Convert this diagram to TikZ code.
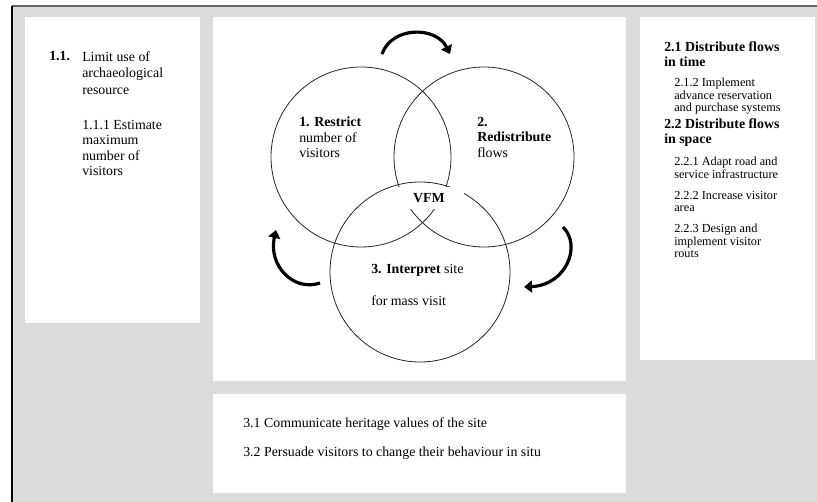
\documentclass[tikz,border=0pt]{standalone}
\usepackage{fontspec}
\setmainfont{Liberation Serif}
\usepackage{tikz}
\usetikzlibrary{arrows.meta}
\usepackage{xcolor}
\definecolor{panelgray}{RGB}{220,220,220}

\tikzset{
  venn/.style={circle, draw=black!85, line width=0.6pt, minimum size=135pt, inner sep=0pt},
  body/.style={font=\fontsize{10.4}{12}\selectfont, align=left, inner sep=0pt, anchor=north west},
  small/.style={font=\fontsize{9.2}{9.3}\selectfont, align=left, inner sep=0pt, anchor=north west},
  cyc/.style={line width=2.4pt, -{Triangle[length=6pt,width=9pt]}}
}

\begin{document}
\begin{tikzpicture}[x=0.75pt, y=-0.75pt]
    \useasboundingbox (0,0) rectangle (817,502);
    % frame and panels
    \fill[panelgray] (12,6) rectangle (817,502);
    \draw[black!60, line width=0.8pt] (12,6) -- (817,6);
    \draw[black, line width=1.5pt] (12,6) -- (12,502);
    \fill[white] (25,17) rectangle (200,323);
    \fill[white] (213,17) rectangle (626,381);
    \fill[white] (640,17) rectangle (815,360);
    \fill[white] (213,394) rectangle (626,493);

    % left panel
    \node[body, font=\fontsize{10.4}{12}\selectfont\bfseries] (n11) at (49,51) {1.1.};
    \node[body, font=\fontsize{10.4}{12.4}\selectfont] (limit) at (82,51) {Limit use of\\archaeological\\resource};
    \node[body, font=\fontsize{10.4}{11.5}\selectfont] (estimate) at (82,120) {1.1.1 Estimate\\maximum\\number of\\visitors};

    % Venn circles
    \node[venn] (restrict) at (361,157) {};
    \node[venn] (redist) at (484,157) {};
    \node[venn] (interp) at (420,272) {};

    \node[body, font=\fontsize{10.4}{11.6}\selectfont] (t1) at (299,117) {\textbf{1. Restrict}\\number of\\visitors};
    \node[body, font=\fontsize{10.4}{11.6}\selectfont] (t2) at (477,117) {\textbf{2.}\\\textbf{Redistribute}\\flows};
    \node[body] (t3) at (371,264) {\textbf{3. Interpret} site};
    \node[body] (t3b) at (371,295) {for mass visit};
    \node[fill=white, inner sep=0pt, minimum width=53pt, minimum height=17pt,
          font=\fontsize{10.4}{12}\selectfont\bfseries] (vfm) at (429,198) {VFM};

    % cycle arrows
    \coordinate (a1) at (382,54);
    \coordinate (a2) at (450,54);
    \coordinate (b1) at (563,227);
    \coordinate (b2) at (524,287);
    \coordinate (c1) at (320,283);
    \coordinate (c2) at (276,230);
    \draw[cyc] (a1) .. controls (392,26) and (436,26) .. (a2);
    \draw[cyc] (b1) .. controls (582,246) and (566,285) .. (b2);
    \draw[cyc] (c1) .. controls (294,292) and (268,266) .. (c2);

    % right panel
    \node[body, font=\fontsize{10.4}{11.3}\selectfont\bfseries] (h21) at (664,41) {2.1 Distribute flows\\in time};
    \node[small] (s212) at (674,78) {2.1.2 Implement\\advance reservation\\and purchase systems};
    \node[body, font=\fontsize{10.4}{11.3}\selectfont\bfseries] (h22) at (664,118) {2.2 Distribute flows\\in space};
    \node[small] (s221) at (674,157) {2.2.1 Adapt road and\\service infrastructure};
    \node[small] (s222) at (674,191) {2.2.2 Increase visitor\\area};
    \node[small] (s223) at (674,224) {2.2.3 Design and\\implement visitor\\routs};

    % bottom panel
    \node[body] (comm) at (243,417) {3.1 Communicate heritage values of the site};
    \node[body] (pers) at (243,447) {3.2 Persuade visitors to change their behaviour in situ};
\end{tikzpicture}
\end{document}
